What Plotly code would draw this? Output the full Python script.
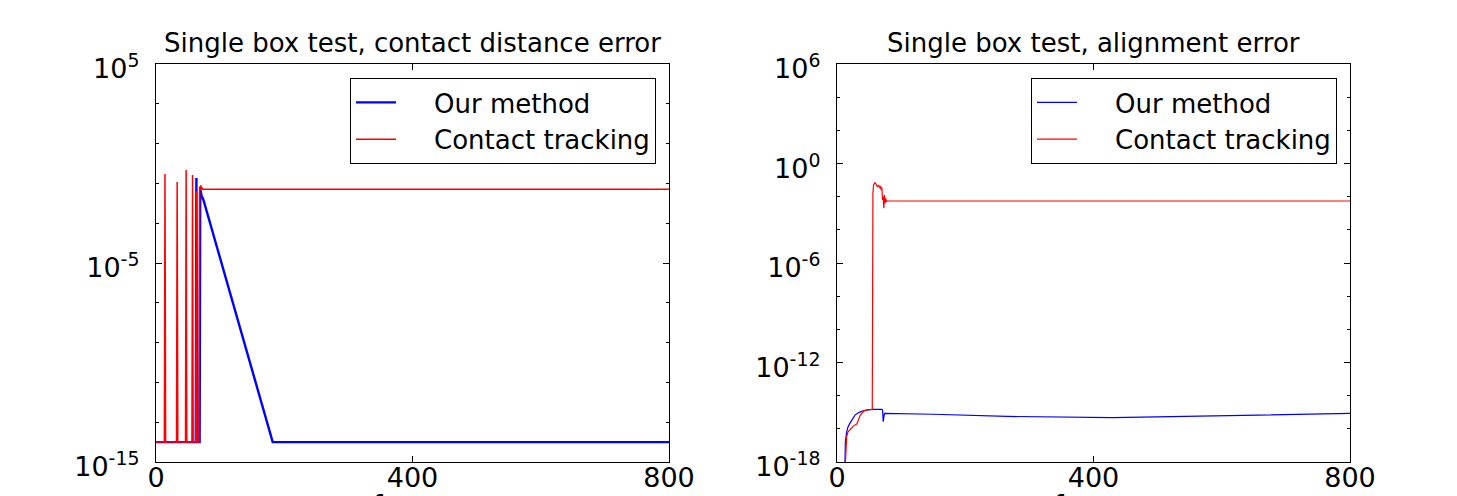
import plotly.graph_objects as go

# ---------------- data ----------------
# Left panel: contact distance error (values stored as log10 exponents)
left_ours_x = [0, 62, 63, 64, 68, 69, 71, 74, 182, 800]
left_ours_exp = [-14, -14, -0.73, -14, -14, -1.3, -1.6, -1.83, -14, -14]

left_ct_x = [0, 13, 14, 15, 32, 33, 34, 46, 47, 48, 56, 57, 58, 62, 63, 64,
             67, 68, 69, 70, 71, 72, 73, 800]
left_ct_exp = [-14, -14, -0.53, -14, -14, -0.93, -14, -14, -0.33, -14, -14, -0.58, -14,
               -14, -1.4, -14, -14, -1.15, -1.3, -1.1, -1.3, -1.2, -1.3, -1.3]

# Right panel: alignment error
right_ours_x = [12, 13, 15, 17, 20, 24, 28, 34, 41, 48, 56, 70, 71, 72, 73, 74,
                150, 265, 430, 629, 800]
right_ours_exp = [-19, -16.8, -16.2, -15.9, -15.67, -15.4, -15.17, -15.02, -14.91, -14.86,
                  -14.83, -14.83, -14.85, -15.57, -15.1, -15.07, -15.12, -15.25, -15.33,
                  -15.21, -15.07]

right_ct_x = [12, 14, 15, 17, 20, 25, 31, 33, 36, 39, 43, 47, 52, 55, 56, 57, 59, 61,
              63, 65, 67, 68, 69, 70, 71, 72, 73, 74, 75, 76, 77, 78, 800]
right_ct_exp = [-19, -17.2, -16.5, -16.2, -16.05, -15.85, -15.7, -15.45, -15.2, -15.05,
                -14.9, -14.86, -14.84, -14.82, -1.8, -1.3, -1.14, -1.3, -1.4, -1.3, -1.5,
                -1.36, -1.6, -1.45, -2.2, -2.0, -2.7, -1.9, -2.4, -2.1, -2.3, -2.26, -2.26]

series_names = ["Our method", "Contact tracking"]
titles = ["Single box test, contact distance error", "Single box test, alignment error"]
x_label = "frame"

x_ticks = [0, 400, 800]
left_major_exp = [5, -5, -15]
left_minor_exp = [3, 1, -1, -3, -7, -9, -11, -13]
right_major_exp = [6, 0, -6, -12, -18]
right_minor_exp = [4, 2, -2, -4, -8, -10, -14, -16]

# ---------------- figure ----------------
W, H = 1457, 496
FONT = "DejaVu Sans"
BLUE, RED = "#0000ff", "#ff0000"


def vals(exps):
    return [10.0 ** e for e in exps]


fig = go.Figure()
pad = "\u00a0" * 4

fig.add_trace(go.Scatter(x=left_ours_x, y=vals(left_ours_exp), mode="lines",
                         name=pad + series_names[0], line=dict(color=BLUE, width=2.4),
                         xaxis="x", yaxis="y", legend="legend"))
fig.add_trace(go.Scatter(x=left_ct_x, y=vals(left_ct_exp), mode="lines",
                         name=pad + series_names[1], line=dict(color=RED, width=1.5),
                         xaxis="x", yaxis="y", legend="legend"))
fig.add_trace(go.Scatter(x=right_ours_x, y=vals(right_ours_exp), mode="lines",
                         name=pad + series_names[0], line=dict(color=BLUE, width=1.2),
                         xaxis="x2", yaxis="y2", legend="legend2"))
fig.add_trace(go.Scatter(x=right_ct_x, y=vals(right_ct_exp), mode="lines",
                         name=pad + series_names[1], line=dict(color=RED, width=1.2),
                         xaxis="x2", yaxis="y2", legend="legend2"))

y_dom = [(H - 462) / H, (H - 64) / H]
x1_dom = [156 / W, 669 / W]
x2_dom = [837 / W, 1350 / W]

tickfont = dict(family=FONT, size=27, color="black")


def xaxis(dom, anchor):
    return dict(domain=dom, anchor=anchor, range=[0, 800], tickmode="array",
                tickvals=x_ticks, ticktext=[str(v) for v in x_ticks],
                ticks="inside", ticklen=6, tickwidth=1, tickcolor="black",
                showline=True, linecolor="black", linewidth=1.3, mirror="ticks",
                showgrid=False, zeroline=False, tickfont=tickfont, ticklabelstandoff=-9,
                automargin=False)


def yaxis(rng, major, minor, anchor):
    return dict(domain=y_dom, anchor=anchor, type="log", range=rng, tickmode="array",
                tickvals=vals(major), ticktext=["10<sup>%d</sup>" % e for e in major],
                ticks="inside", ticklen=6, tickwidth=1, tickcolor="black",
                minor=dict(tickmode="array", tickvals=vals(minor), ticks="inside",
                           ticklen=3, tickwidth=1, tickcolor="black", showgrid=False),
                showline=True, linecolor="black", linewidth=1.3, mirror="ticks",
                showgrid=False, zeroline=False, tickfont=tickfont,
                ticklabelstandoff=10, ticklabelshift=5, automargin=False)


legend_common = dict(bgcolor="white", bordercolor="black", borderwidth=1,
                     font=dict(family=FONT, size=26, color="black"),
                     xanchor="right", yanchor="top", y=(H - 78) / H,
                     itemwidth=40, traceorder="normal", tracegroupgap=0)

fig.update_layout(
    width=W, height=H,
    margin=dict(l=0, r=0, t=0, b=0, pad=0, autoexpand=False),
    paper_bgcolor="white", plot_bgcolor="white",
    font=dict(family=FONT, color="black"),
    xaxis=xaxis(x1_dom, "y"), yaxis=yaxis([-15, 5], left_major_exp, left_minor_exp, "x"),
    xaxis2=xaxis(x2_dom, "y2"), yaxis2=yaxis([-18, 6], right_major_exp, right_minor_exp, "x2"),
    legend=dict(legend_common, x=656 / W),
    legend2=dict(legend_common, x=1337 / W),
    showlegend=True,
)

for i, xr in enumerate(["x domain", "x2 domain"]):
    fig.add_annotation(text=titles[i], xref=xr, x=0.5, yref="paper", y=(H - 60.4) / H,
                       xanchor="center", yanchor="bottom", showarrow=False,
                       font=dict(family=FONT, size=26, color="black"))
    fig.add_annotation(text=x_label, xref=xr, x=0.5, yref="paper", y=(H - 487.4) / H,
                       xanchor="center", yanchor="top", showarrow=False,
                       font=dict(family=FONT, size=27, color="black"))

fig.write_html("out.html", config={"displayModeBar": False},
               post_script="document.body.style.margin='0';")
